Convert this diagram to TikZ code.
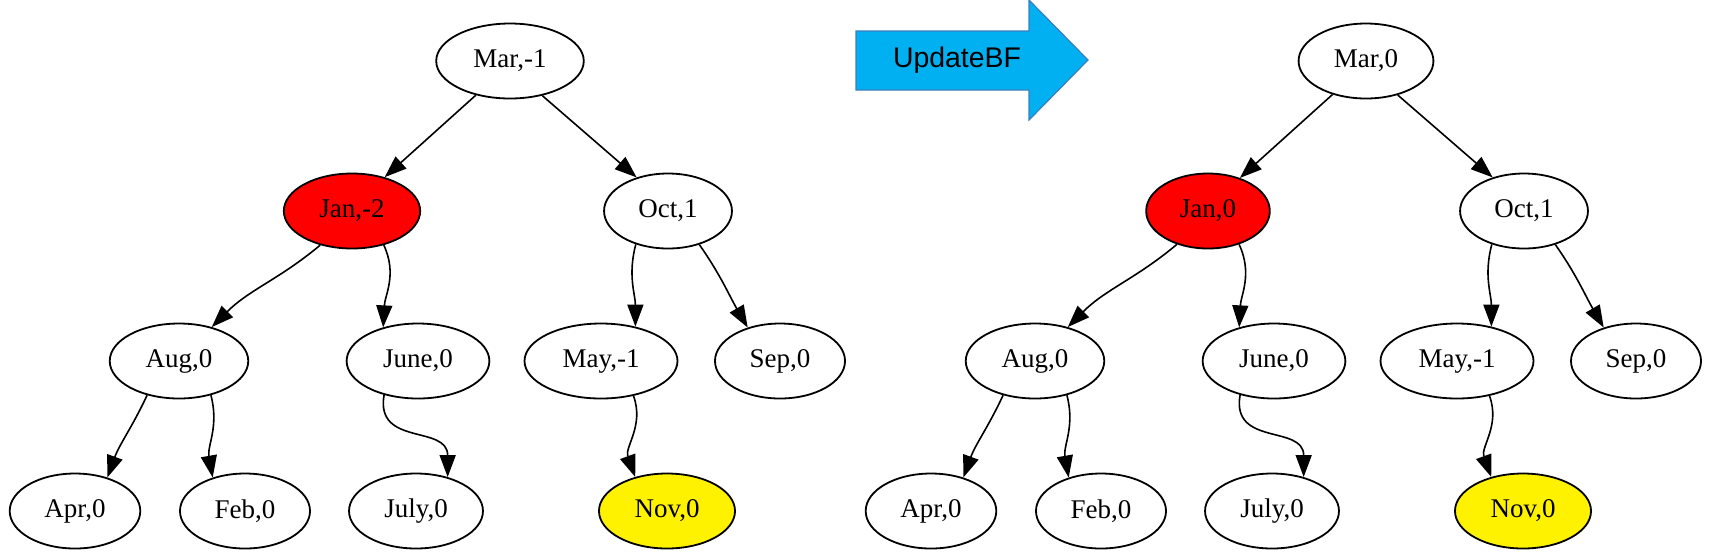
\documentclass[tikz,border=0pt]{standalone}
\usepackage{fontspec}
\setmainfont{Liberation Serif}
\newfontfamily\arialfont{Liberation Sans}
\usetikzlibrary{arrows.meta, shapes.geometric}
\definecolor{arrowfill}{HTML}{00B0F0}
\definecolor{arrowline}{HTML}{3A7EC0}

\begin{document}
\begin{tikzpicture}[
  x=0.5pt, y=-0.5pt, >={Triangle[length=11pt,width=8pt]},
  treenode/.style={
    ellipse, draw=black, line width=0.9pt, fill=white,
    minimum height=37.5pt, inner xsep=7.8pt, inner ysep=2pt,
    font=\fontsize{13.5pt}{16pt}\selectfont
  },
  badnode/.style={treenode, fill=red},
  newnode/.style={treenode, fill=yellow},
  treeedge/.style={->, line width=0.8pt},
  updarrow/.style={draw=arrowline, fill=arrowfill, line width=0.6pt},
]
\useasboundingbox (0,0) rectangle (1713,559);
% --- LEFT TREE: before ---
\node[treenode] (mar1) at (510,61) {Mar,-1};
\node[badnode]  (jan1) at (352,211) {Jan,-2};
\node[treenode] (oct1) at (668,211) {Oct,1};
\node[treenode] (aug1) at (179,361) {Aug,0};
\node[treenode] (june1) at (418,361) {June,0};
\node[treenode] (may1) at (601,361) {May,-1};
\node[treenode] (sep1) at (780,361) {Sep,0};
\node[treenode] (apr1) at (75,511) {Apr,0};
\node[treenode] (feb1) at (245,511) {Feb,0};
\node[treenode] (july1) at (416,511) {July,0};
\node[newnode]  (nov1) at (667,511) {Nov,0};
% --- UPDATE ARROW ---
\draw[updarrow] (856,31) -- (1029,31) -- (1029,0) -- (1088,60)
  -- (1029,120) -- (1029,90) -- (856,90) -- cycle;
\node[font=\arialfont\fontsize{14.2pt}{17pt}\selectfont] (upd) at (957,60) {UpdateBF};
% --- RIGHT TREE: after ---
\begin{scope}[xshift=428pt]
\node[treenode] (mar2) at (510,61) {Mar,0};
\node[badnode]  (jan2) at (352,211) {Jan,0};
\node[treenode] (oct2) at (668,211) {Oct,1};
\node[treenode] (aug2) at (179,361) {Aug,0};
\node[treenode] (june2) at (418,361) {June,0};
\node[treenode] (may2) at (601,361) {May,-1};
\node[treenode] (sep2) at (780,361) {Sep,0};
\node[treenode] (apr2) at (75,511) {Apr,0};
\node[treenode] (feb2) at (245,511) {Feb,0};
\node[treenode] (july2) at (416,511) {July,0};
\node[newnode]  (nov2) at (667,511) {Nov,0};
\end{scope}
% --- EDGES (same for both trees) ---
\foreach \t in {1,2} {
  \draw[treeedge] (mar\t.-135) -- (jan\t.46);
  \draw[treeedge] (mar\t.-47) -- (oct\t.133);
  \draw[treeedge] (jan\t.-133) to[out=-140,in=45] (aug\t.46);
  \draw[treeedge] (jan\t.-47) to[out=-65,in=87] (june\t.136);
  \draw[treeedge] (oct\t.-134) to[out=-105,in=90] (may\t.45);
  \draw[treeedge] (oct\t.-47) to[out=-55,in=120] (sep\t.134);
  \draw[treeedge] (aug\t.-133) to[out=-115,in=70] (apr\t.46);
  \draw[treeedge] (aug\t.-47) to[out=-75,in=100] (feb\t.134);
  \draw[treeedge] (june\t.-135) to[out=-100,in=90,looseness=1.3] (july\t.47);
  \draw[treeedge] (may\t.-47) to[out=-70,in=110] (nov\t.133);
}
\end{tikzpicture}
\end{document}
